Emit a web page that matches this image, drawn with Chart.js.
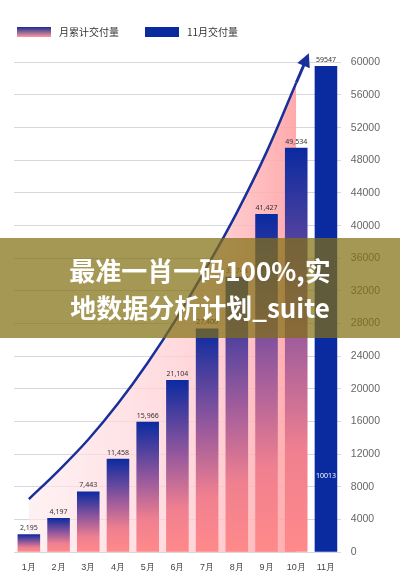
<!DOCTYPE html>
<html><head><meta charset="utf-8">
<script src="https://cdn.jsdelivr.net/npm/chart.js@4"></script>
<style>
body{margin:0;background:#fff;font-family:"Noto Sans CJK SC","Noto Sans",sans-serif;}
#wrap{position:relative;width:400px;height:579px;}
#legend{position:absolute;top:24px;left:17px;font-size:10px;color:#333;display:flex;align-items:center;}
.sw{display:inline-block;width:34px;height:10px;margin-right:8px;}
#banner{position:absolute;left:0;top:238px;width:400px;height:100px;background:rgba(130,112,20,0.72);color:#fff;font-weight:bold;font-size:26px;line-height:37px;text-align:center;padding-top:13px;box-sizing:border-box;}
</style></head>
<body><div id="wrap">
<canvas id="c" width="400" height="579"></canvas>
<div id="legend"><span class="sw" style="background:linear-gradient(#1a2d8f,#ff9aa0)"></span>月累计交付量<span style="width:26px"></span><span class="sw" style="background:#0a2aa0"></span>11月交付量</div>
<div id="banner">最准一肖一码100%,实<br>地数据分析计划_suite</div>
</div>
<script>
const months = ['1月','2月','3月','4月','5月','6月','7月','8月','9月','10月','11月'];
const cumulative = [2195,4197,7443,11458,15966,21104,27400,33748,41427,49534,59547];
const novDelivery = 10013;
const trend = [6500,10000,13800,18200,23200,28800,35000,41600,49000,57500,null];
const tickValues = [0,4000,8000,12000,16000,20000,24000,28000,32000,36000,40000,44000,48000,52000,56000,60000];

function barColor(ctx) {
  const chart = ctx.chart;
  if (ctx.dataIndex === months.length - 1) return '#0a2aa0';
  const y = chart.scales.y;
  if (!y || !chart.chartArea) return '#ff8a8a';
  const top = y.getPixelForValue(ctx.raw), base = y.getPixelForValue(0);
  const g = chart.ctx.createLinearGradient(0, top, 0, base);
  g.addColorStop(0, '#0a2aa0');
  g.addColorStop(0.45, '#9a5a9c');
  g.addColorStop(0.75, '#f08090');
  g.addColorStop(1, '#ff8a8a');
  return g;
}
function areaColor(ctx) {
  const chart = ctx.chart;
  if (!chart.chartArea) return 'rgba(255,180,180,0.4)';
  const a = chart.chartArea;
  const g = chart.ctx.createLinearGradient(a.left, 0, a.right, 0);
  g.addColorStop(0, 'rgba(255,235,238,0.6)');
  g.addColorStop(0.6, 'rgba(255,200,205,0.8)');
  g.addColorStop(1, 'rgba(255,140,140,0.95)');
  return g;
}

const extras = {
  id: 'extras',
  afterDatasetsDraw(chart) {
    const c = chart.ctx, x = chart.scales.x, y = chart.scales.y;
    c.save();
    c.font = '7px "Noto Sans"';
    c.fillStyle = '#333';
    c.textAlign = 'center';
    cumulative.forEach((v, i) => {
      const t = i === 10 ? String(v) : v.toLocaleString('en-US');
      c.fillText(t, x.getPixelForValue(i), y.getPixelForValue(v) - 4);
    });
    c.fillStyle = '#fff';
    c.fillText(String(novDelivery), x.getPixelForValue(10), y.getPixelForValue(novDelivery) + 8);
    // arrow head at end of trend line
    const meta = chart.getDatasetMeta(1).data;
    const p1 = meta[8], p2 = meta[9];
    const ang = Math.atan2(p2.y - p1.y, p2.x - p1.x);
    const tx = p2.x + Math.cos(ang) * 26, ty = p2.y + Math.sin(ang) * 26;
    c.strokeStyle = '#1a2f9a'; c.lineWidth = 3;
    c.beginPath(); c.moveTo(p2.x, p2.y); c.lineTo(tx, ty); c.stroke();
    c.fillStyle = '#1a2f9a';
    c.beginPath();
    c.moveTo(tx + Math.cos(ang) * 6, ty + Math.sin(ang) * 6);
    c.lineTo(tx + Math.cos(ang + 2.4) * 10, ty + Math.sin(ang + 2.4) * 10);
    c.lineTo(tx + Math.cos(ang - 2.4) * 10, ty + Math.sin(ang - 2.4) * 10);
    c.closePath(); c.fill();
    c.restore();
  }
};

new Chart(document.getElementById('c'), {
  data: {
    labels: months,
    datasets: [
      { type: 'bar', data: cumulative, backgroundColor: barColor, barPercentage: 0.8, categoryPercentage: 0.95, order: 1 },
      { type: 'line', data: trend, borderColor: '#1a2f9a', borderWidth: 2.5, pointRadius: 0, tension: 0.4,
        fill: 'origin', backgroundColor: areaColor, order: 2 }
    ]
  },
  options: {
    responsive: false, animation: false,
    layout: { padding: { left: 14, top: 46, right: 10, bottom: 4 } },
    plugins: { legend: { display: false }, tooltip: { enabled: false } },
    scales: {
      x: { grid: { display: false }, border: { display: false }, offset: true,
        ticks: { color: '#444', font: { size: 9 }, padding: 2 } },
      y: { position: 'right', min: 0, max: 62000,
        afterBuildTicks: s => { s.ticks = tickValues.map(v => ({ value: v })); },
        grid: { color: '#d8d8dc', drawTicks: false }, border: { display: false },
        ticks: { color: '#666', font: { size: 10.5 }, padding: 10, callback: v => String(v) } }
    }
  },
  plugins: [extras]
});
</script></body></html>
